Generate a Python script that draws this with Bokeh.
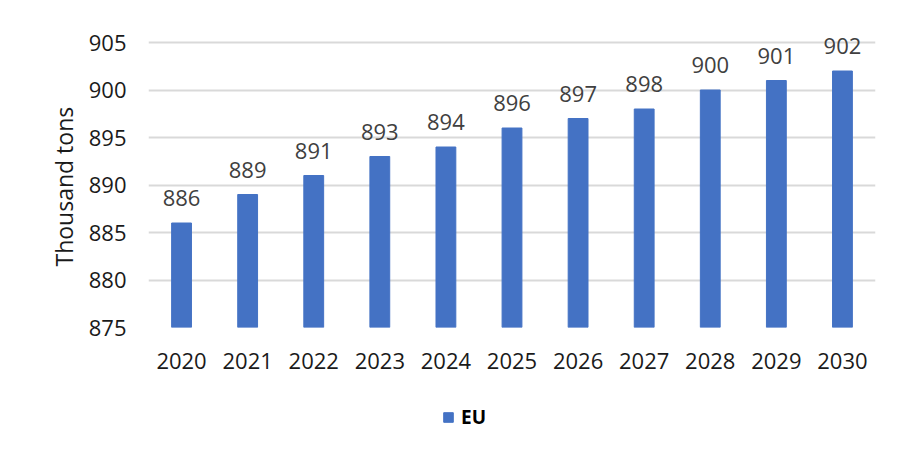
from bokeh.plotting import figure
from bokeh.layouts import column
from bokeh.models import ColumnDataSource, LabelSet, Legend, LegendItem, Range1d, FactorRange, Title
from bokeh.core.properties import value
from bokeh.embed import file_html
from bokeh.resources import INLINE

years = ["2020", "2021", "2022", "2023", "2024", "2025", "2026", "2027", "2028", "2029", "2030"]
eu_values = [886, 889, 891, 893, 894, 896, 897, 898, 900, 901, 902]
y_ticks = [875, 880, 885, 890, 895, 900, 905]
series_name = "EU"
y_label = "Thousand tons"

FONT = "Open Sans"
BLUE = "#4472C4"

src = ColumnDataSource(dict(year=years, val=eu_values, lab=[str(v) for v in eu_values]))

# y range runs a little above the top tick so the "902" label has room
p = figure(x_range=FactorRange(*years), y_range=Range1d(875, 875 + 309 / 9.5),
           frame_width=727, frame_height=309, output_backend="svg", toolbar_location=None,
           min_border_left=148, min_border_right=20, min_border_top=18, min_border_bottom=55)
p.outline_line_color = None

r = p.vbar(x="year", top="val", bottom=875, width=0.3, source=src, color=BLUE)

labels = LabelSet(x="year", y="val", text="lab", source=src, y_offset=17,
                  text_align="center", text_baseline="bottom",
                  text_font=value(FONT), text_font_size="22px", text_color="#404040")
p.add_layout(labels)

p.xgrid.grid_line_color = None
p.ygrid.grid_line_color = "#d9d9d9"
p.ygrid.grid_line_width = 2
p.yaxis.ticker = y_ticks

for ax in (p.xaxis, p.yaxis):
    ax.axis_line_color = None
    ax.major_tick_line_color = None
    ax.minor_tick_line_color = None
    ax.major_label_text_font = FONT
    ax.major_label_text_font_size = "22px"
    ax.major_label_text_color = "#1a1a1a"

p.yaxis.major_label_standoff = 16
p.xaxis.major_label_standoff = 19

# y-axis title, placed so it is centred on the 875-905 span
ytitle = Title(text=y_label, align="left", offset=61, standoff=12,
               text_font=FONT, text_font_size="23px", text_font_style="normal",
               text_color="#1a1a1a")
p.add_layout(ytitle, "left")

# separate strip holding the legend (below the chart)
lf = figure(width=895, height=60, output_backend="svg", toolbar_location=None,
            x_axis_type=None, y_axis_type=None,
            x_range=Range1d(0, 1), y_range=Range1d(0, 1),
            min_border_left=0, min_border_right=0, min_border_top=0, min_border_bottom=0)
lf.outline_line_color = None
lr = lf.vbar(x=[-5], top=[-5], bottom=[-5], width=0.3, color=BLUE)

legend = Legend(items=[LegendItem(label=series_name, renderers=[lr])],
                orientation="horizontal", location=(294, 12),
                label_text_font=FONT, label_text_font_size="19px", label_text_font_style="bold",
                label_text_color="#000000", glyph_width=12, glyph_height=12, label_standoff=7,
                border_line_color=None, background_fill_alpha=0, padding=0, margin=0, spacing=4)
lf.add_layout(legend, "center")

layout = column(p, lf, spacing=0)
open("out.html", "w").write(file_html(layout, INLINE))
